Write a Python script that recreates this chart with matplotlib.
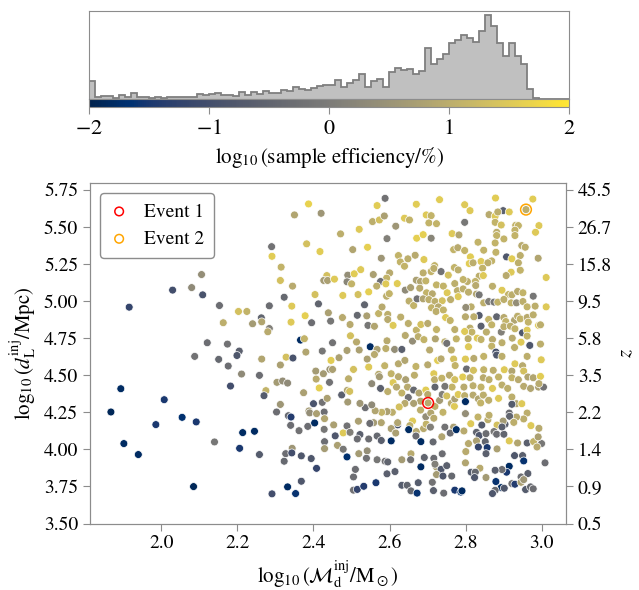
import numpy as np
import matplotlib.pyplot as plt
from matplotlib import cm, colors

plt.rcParams['font.family'] = 'serif'
plt.rcParams['font.serif'] = ['STIXGeneral', 'Liberation Serif', 'DejaVu Serif']
plt.rcParams['mathtext.fontset'] = 'stix'
plt.rcParams['axes.edgecolor'] = '#8c8c8c'
plt.rcParams['xtick.color'] = '#8c8c8c'
plt.rcParams['ytick.color'] = '#8c8c8c'
plt.rcParams['xtick.labelcolor'] = 'black'
plt.rcParams['ytick.labelcolor'] = 'black'

# histogram of log10 sample efficiency, 0.05-wide bins from -2 to 2
eff_counts = [54, 7, 9, 9, 4, 13, 5, 17, 7, 5, 4, 5, 4, 7, 5, 7, 5, 7, 14, 12,
              14, 17, 11, 13, 10, 21, 12, 22, 14, 23, 17, 19, 27, 25, 35, 31, 27, 33, 39, 43,
              41, 57, 35, 49, 59, 75, 37, 55, 61, 37, 81, 93, 87, 91, 77, 85, 155, 105, 122, 137,
              169, 179, 193, 185, 173, 205, 254, 221, 169, 129, 169, 129, 107, 29, 4, 0, 0, 0, 0, 0]

# (log10 chirp mass, log10 distance, log10 sample efficiency)
sparse_low_mass = [
    (2.106, 5.179, 0.4), (2.030, 5.074, -1.0), (2.080, 5.091, 0.3), (2.109, 5.042, -0.9),
    (1.916, 4.959, -1.2), (2.153, 4.970, -0.3), (2.203, 4.930, 1.35), (2.225, 4.930, 1.1),
    (2.163, 4.854, 1.0), (2.121, 4.719, -0.3), (2.174, 4.710, -0.2), (2.205, 4.663, -0.6),
    (2.088, 4.627, -0.2), (2.151, 4.607, -0.4), (2.199, 4.633, -0.8), (2.176, 4.562, -0.3),
    (2.211, 4.508, 0.3), (1.894, 4.409, -1.8), (2.182, 4.427, -1.0), (2.008, 4.335, -1.5),
    (1.868, 4.252, -1.9), (2.055, 4.216, -1.7), (2.092, 4.185, -1.5), (1.986, 4.167, -1.5),
    (2.214, 4.113, -1.8), (2.140, 4.050, -0.1), (1.902, 4.039, -1.8), (2.206, 4.007, -1.5),
    (1.940, 3.965, -1.8), (2.085, 3.749, -1.9), (2.245, 4.122, -1.8),
]

mid_mass_upper = [
    (2.387, 5.655, 1.65), (2.350, 5.581, 0.85), (2.420, 5.592, 0.55), (2.471, 5.453, 1.0),
    (2.290, 5.367, -0.2), (2.382, 5.386, 1.35), (2.417, 5.334, 1.55), (2.503, 5.347, 0.85),
    (2.291, 5.302, 1.55), (2.315, 5.229, 1.1), (2.313, 5.139, 1.35), (2.345, 5.101, 0.95),
    (2.435, 5.172, 1.35), (2.427, 5.139, 0.65), (2.437, 5.139, 0.75), (2.455, 5.148, 1.5),
    (2.490, 5.175, 0.4), (2.488, 5.130, 0.2), (2.500, 5.116, 1.1), (2.507, 5.184, 1.55),
    (2.404, 5.044, 1.35), (2.477, 5.038, 1.5), (2.323, 5.026, -0.4), (2.284, 4.968, -0.3),
    (2.343, 4.966, 1.5), (2.413, 4.981, -0.5), (2.439, 4.921, 0.75), (2.240, 4.847, 0.65),
    (2.263, 4.887, -0.5), (2.264, 4.860, 0.85), (2.284, 4.815, 0.1), (2.280, 4.793, 0.95),
    (2.341, 4.858, 1.5), (2.378, 4.901, 1.6), (2.395, 4.854, -0.3), (2.445, 4.865, -0.1),
    (2.476, 4.889, 0.95), (2.496, 4.842, 0.95), (2.497, 4.766, 1.35), (2.366, 4.737, -1.8),
    (2.376, 4.746, 1.1), (2.450, 4.719, -0.2), (2.380, 4.656, 0.85), (2.423, 4.663, -0.1),
    (2.488, 4.667, 0.75),
]

mid_mass_lower = [
    (2.264, 4.609, 0.85), (2.328, 4.622, 1.35), (2.346, 4.616, -0.9), (2.313, 4.569, 0.75),
    (2.258, 4.499, -0.3), (2.304, 4.452, 0.65), (2.319, 4.461, 0.4), (2.332, 4.447, 0.3),
    (2.275, 4.396, 1.1), (2.270, 4.362, -0.7), (2.313, 4.303, 0.55), (2.303, 4.252, -0.3),
    (2.334, 4.227, -0.4), (2.341, 4.218, -1.4), (2.340, 4.162, -0.3), (2.362, 4.126, -0.2),
    (2.388, 4.259, 0.65), (2.390, 4.246, 0.4), (2.400, 4.308, -0.9), (2.408, 4.241, 0.75),
    (2.423, 4.317, -0.2), (2.436, 4.344, 0.75), (2.428, 4.252, -0.3), (2.429, 4.207, 0.85),
    (2.385, 4.155, -0.3), (2.403, 4.178, -1.8), (2.428, 4.135, -0.1), (2.453, 4.165, 0.75),
    (2.429, 4.052, -0.3), (2.429, 4.005, 0.65), (2.457, 4.091, -0.8), (2.463, 4.027, 0.75),
    (2.478, 4.111, 1.5), (2.488, 4.158, -0.2), (2.496, 4.115, 0.1), (2.478, 4.001, -0.1),
    (2.488, 3.949, -1.7), (2.258, 3.965, -0.7), (2.327, 3.971, -0.3), (2.344, 4.007, 0.55),
    (2.343, 3.976, -1.0), (2.323, 3.920, -0.4), (2.368, 3.956, -0.8), (2.394, 3.938, -0.8),
    (2.408, 3.872, -1.2), (2.368, 3.785, -0.8), (2.332, 3.747, -1.8), (2.353, 3.702, -1.6),
    (2.291, 3.700, -1.0), (2.505, 3.814, -0.3), (2.505, 3.725, -0.2), (2.446, 4.600, 1.55),
    (2.443, 4.539, 0.55), (2.450, 4.539, 0.75), (2.467, 4.618, 0.75), (2.406, 4.528, 0.65),
    (2.407, 4.474, 0.95), (2.426, 4.510, 0.65), (2.415, 4.414, 1.6), (2.442, 4.452, -0.2),
    (2.374, 4.382, 0.75), (2.474, 4.367, -0.6), (2.489, 4.398, 0.85), (2.495, 4.391, 1.35),
    (2.490, 4.319, 0.65), (2.505, 4.539, 1.35), (2.492, 4.476, 1.0),
]

high_mass_far = [
    (2.588, 5.693, -0.2), (2.567, 5.644, 1.55), (2.670, 5.653, 1.55), (2.731, 5.684, 1.55),
    (2.639, 5.559, 1.5), (2.652, 5.547, 1.1), (2.555, 5.536, 1.0), (2.573, 5.547, 1.35),
    (2.586, 5.574, 0.75), (2.616, 5.505, 0.55), (2.520, 5.484, 1.5), (2.696, 5.581, 1.5),
    (2.709, 5.576, 1.1), (2.703, 5.527, 1.1), (2.723, 5.522, 1.1), (2.593, 5.421, 0.1),
    (2.671, 5.424, 1.6), (2.688, 5.448, 1.6), (2.709, 5.424, 0.2), (2.764, 5.455, 1.5),
    (2.782, 5.446, 0.85), (2.542, 5.363, 1.6), (2.768, 5.347, 1.1), (2.779, 5.360, 0.95),
    (2.578, 5.289, 0.55), (2.623, 5.307, 1.1), (2.628, 5.264, 1.1), (2.648, 5.285, 1.0),
    (2.667, 5.309, 0.95), (2.639, 5.235, 1.1), (2.690, 5.280, 1.5), (2.718, 5.239, 1.1),
    (2.735, 5.199, -0.2), (2.754, 5.175, 1.35), (2.770, 5.226, 1.1), (2.780, 5.210, 1.0),
    (2.524, 5.212, 1.5), (2.557, 5.179, 0.75), (2.600, 5.190, 0.95), (2.592, 5.155, 1.1),
    (2.576, 5.132, -0.3), (2.566, 5.101, 1.0), (2.590, 5.116, 1.5), (2.620, 5.118, 1.55),
    (2.641, 5.074, 0.3), (2.655, 5.091, 0.75), (2.670, 5.141, 0.75), (2.681, 5.132, 0.85),
    (2.695, 5.136, 1.1), (2.688, 5.190, 1.0), (2.709, 5.199, 1.1), (2.716, 5.220, 1.0),
    (2.679, 5.087, 0.95), (2.697, 5.056, 1.1), (2.712, 5.049, 0.95), (2.723, 5.109, 1.1),
    (2.741, 5.101, 1.1), (2.751, 5.056, 1.5), (2.771, 5.118, 1.0), (2.778, 5.070, 1.0),
    (2.517, 5.044, 1.35), (2.545, 5.062, 1.6), (2.592, 5.033, 1.0), (2.599, 5.050, 1.1),
    (2.651, 5.000, 1.0), (2.663, 4.970, 1.1), (2.672, 5.015, -0.2), (2.688, 5.015, 0.85),
    (2.703, 5.010, 1.0), (2.719, 4.997, 1.0), (2.738, 5.002, 1.35), (2.710, 4.955, 1.1),
    (2.728, 4.961, 0.95), (2.722, 4.930, 1.0), (2.741, 4.940, 1.1), (2.780, 5.030, 1.5),
    (2.760, 5.010, 1.0), (2.534, 4.975, -0.5), (2.515, 4.904, -0.4), (2.540, 4.900, 0.75),
    (2.571, 4.916, 1.1), (2.580, 4.960, 0.95), (2.595, 4.910, 1.0), (2.595, 4.876, 0.95),
    (2.609, 4.836, 1.5), (2.629, 4.892, 1.0), (2.649, 4.849, 1.0), (2.670, 4.804, 1.1),
    (2.682, 4.842, 1.35), (2.700, 4.849, 0.95), (2.723, 4.808, 1.1), (2.747, 4.889, 1.5),
    (2.759, 4.869, 1.1), (2.771, 4.808, 1.0), (2.543, 4.836, -0.1), (2.560, 4.830, 0.85),
    (2.513, 4.724, 0.95), (2.549, 4.692, -1.8), (2.567, 4.674, 0.75), (2.593, 4.732, 0.95),
    (2.590, 4.680, 1.0), (2.613, 4.674, 0.4), (2.632, 4.674, -0.6), (2.641, 4.768, 0.95),
    (2.660, 4.730, 0.4), (2.675, 4.760, 1.0), (2.690, 4.740, 1.1), (2.705, 4.670, 0.95),
    (2.720, 4.745, 0.85), (2.745, 4.725, 1.0), (2.750, 4.715, -0.2), (2.762, 4.670, 1.0),
    (2.775, 4.745, 1.1), (2.520, 4.670, 0.75),
]

high_mass_near = [
    (2.541, 4.609, 0.75), (2.560, 4.640, 0.95), (2.587, 4.564, 1.1), (2.545, 4.555, 1.5),
    (2.623, 4.577, 0.95), (2.640, 4.600, 0.85), (2.669, 4.559, 1.1), (2.700, 4.570, 0.95),
    (2.726, 4.600, 1.55), (2.735, 4.610, 0.95), (2.768, 4.609, 1.35), (2.772, 4.565, 1.1),
    (2.571, 4.506, 0.95), (2.573, 4.490, 0.65), (2.553, 4.443, 0.3), (2.604, 4.510, 1.1),
    (2.623, 4.490, 0.95), (2.642, 4.470, 0.75), (2.609, 4.450, 1.5), (2.665, 4.500, 1.0),
    (2.716, 4.510, 1.5), (2.718, 4.470, 1.0), (2.719, 4.420, -0.5), (2.737, 4.480, 1.1),
    (2.757, 4.500, 0.95), (2.771, 4.470, 1.35), (2.764, 4.420, 1.1), (2.745, 4.425, -0.1),
    (2.576, 4.411, -0.6), (2.595, 4.390, 1.0), (2.618, 4.420, 0.95), (2.632, 4.380, 1.1),
    (2.647, 4.420, 0.95), (2.663, 4.400, -0.4), (2.677, 4.380, 0.85), (2.695, 4.400, 1.55),
    (2.700, 4.370, 0.95), (2.701, 4.313, 0.95), (2.681, 4.325, 0.85), (2.649, 4.350, -0.2),
    (2.640, 4.310, 0.95), (2.663, 4.310, 0.75), (2.625, 4.286, 1.35), (2.607, 4.250, 1.0),
    (2.593, 4.255, 0.75), (2.579, 4.250, 1.1), (2.562, 4.260, 0.85), (2.536, 4.281, -0.3),
    (2.522, 4.310, 0.55), (2.553, 4.300, 0.3), (2.719, 4.290, 1.0), (2.731, 4.330, 0.65),
    (2.738, 4.370, 0.1), (2.750, 4.360, 1.35), (2.740, 4.250, 1.1), (2.762, 4.310, 0.95),
    (2.770, 4.290, 1.5), (2.771, 4.340, 0.75), (2.780, 4.370, 1.5), (2.681, 4.265, 1.0),
    (2.695, 4.220, 0.4), (2.708, 4.245, 0.85), (2.716, 4.210, 0.95), (2.660, 4.191, 1.5),
    (2.653, 4.160, 1.0), (2.650, 4.133, -1.8), (2.621, 4.165, -1.0), (2.621, 4.180, 0.85),
    (2.604, 4.140, 0.75), (2.616, 4.110, 0.75), (2.578, 4.180, 0.85), (2.558, 4.180, 0.65),
    (2.548, 4.175, -0.3), (2.518, 4.190, 0.75), (2.670, 4.120, 0.95), (2.669, 4.090, -0.3),
    (2.682, 4.052, -1.8), (2.689, 4.140, 0.95), (2.696, 4.170, 1.1), (2.707, 4.150, 0.1),
    (2.714, 4.050, -0.4), (2.737, 4.085, 0.85), (2.745, 4.150, -0.2), (2.768, 4.150, 0.75),
    (2.759, 4.110, -0.3), (2.775, 4.133, -1.8), (2.604, 4.057, -1.8), (2.567, 4.090, -0.4),
    (2.578, 4.060, -0.6), (2.545, 4.070, -0.3), (2.522, 4.100, -0.6), (2.515, 4.070, -0.3),
    (2.519, 3.971, 0.65), (2.541, 3.990, 0.4), (2.539, 3.940, -0.2), (2.567, 3.930, -0.1),
    (2.588, 3.920, -0.2), (2.595, 3.915, -0.5), (2.632, 3.930, 0.65), (2.656, 3.970, 0.95),
    (2.655, 3.930, -0.2), (2.691, 3.945, -0.5), (2.682, 3.882, -1.8), (2.716, 3.940, -0.3),
    (2.723, 3.880, 0.75), (2.719, 3.900, 0.1), (2.738, 3.970, -0.3), (2.735, 3.865, -0.8),
    (2.750, 3.890, -0.6), (2.723, 3.830, 0.65), (2.740, 3.820, -0.8), (2.763, 3.820, -0.4),
    (2.510, 3.865, -0.3), (2.515, 3.730, -1.2), (2.532, 3.751, -1.4), (2.564, 3.775, -1.5),
    (2.593, 3.835, -0.6), (2.614, 3.850, -0.6), (2.632, 3.758, -0.7), (2.646, 3.758, -0.5),
    (2.656, 3.720, -0.4), (2.672, 3.705, -1.6), (2.675, 3.775, -0.7), (2.712, 3.778, -0.2),
    (2.715, 3.722, -0.6), (2.742, 3.705, -0.3), (2.771, 3.725, -1.5), (2.787, 3.712, -1.6),
]

top_mass_far = [
    (2.878, 5.695, 1.55), (2.976, 5.688, 1.55), (2.958, 5.617, 1.0), (2.797, 5.650, 1.5),
    (2.811, 5.610, 1.5), (2.861, 5.583, 0.95), (2.877, 5.572, 1.5), (2.898, 5.610, -0.6),
    (2.914, 5.601, 1.5), (2.884, 5.601, 1.0), (2.797, 5.531, -0.1), (2.877, 5.531, 1.1),
    (2.893, 5.513, 1.35), (2.931, 5.511, 1.1), (2.938, 5.509, 1.1), (2.992, 5.509, 1.5),
    (2.983, 5.464, 1.5), (2.881, 5.464, 1.0), (2.881, 5.442, 1.1), (2.929, 5.478, 1.1),
    (2.929, 5.442, 1.1), (2.900, 5.419, 1.1), (2.877, 5.392, 1.1), (2.832, 5.397, 1.1),
    (2.947, 5.374, 0.95), (2.956, 5.363, 1.0), (2.797, 5.341, 1.1), (2.847, 5.343, 1.1),
    (2.879, 5.329, 1.1), (2.907, 5.298, -0.8), (2.921, 5.285, 1.55), (2.943, 5.307, 1.0),
    (2.938, 5.258, 1.0), (2.990, 5.289, 0.85), (2.812, 5.298, 1.55), (2.809, 5.253, 1.55),
    (2.840, 5.267, 1.5), (2.868, 5.271, 1.1), (2.819, 5.258, 1.0), (2.858, 5.258, 1.0),
    (2.844, 5.222, 1.1), (2.919, 5.195, 1.5), (2.943, 5.208, 1.1), (2.906, 5.172, 0.95),
    (3.011, 5.159, 1.5), (2.835, 5.168, 1.0), (2.846, 5.172, 1.5), (2.825, 5.132, 1.1),
    (2.826, 5.105, 0.95), (2.804, 5.132, 1.0), (2.793, 5.145, 1.1), (2.793, 5.082, 1.0),
    (2.870, 5.100, 1.0), (2.895, 5.073, 1.5), (2.912, 5.044, 1.1), (2.921, 5.042, 1.0),
    (2.936, 5.065, 0.95), (2.950, 5.056, 1.1), (2.977, 5.033, -0.1), (2.828, 5.047, 0.85),
    (2.807, 5.060, 1.0), (2.835, 5.042, -0.1), (2.847, 4.988, 1.0), (2.860, 4.997, 0.1),
    (2.874, 4.993, -0.1), (2.884, 4.993, 1.1), (2.900, 5.011, 1.0), (2.919, 4.988, 1.1),
    (2.933, 4.988, 0.4), (2.950, 4.997, 1.0), (2.961, 4.961, 1.1), (2.982, 4.966, 1.0),
    (3.011, 4.961, 1.5), (2.814, 4.961, 1.0), (2.800, 4.957, 0.4), (2.835, 4.903, -0.7),
    (2.821, 4.894, 1.0), (2.799, 4.894, 0.95), (2.881, 4.894, -0.5), (2.860, 4.876, 1.1),
    (2.868, 4.840, 1.1), (2.900, 4.889, 0.95), (2.905, 4.862, 1.1), (2.928, 4.871, 0.85),
    (2.936, 4.898, 1.0), (2.943, 4.880, 1.1), (2.961, 4.889, 0.95), (2.964, 4.858, 1.1),
    (2.977, 4.907, 1.0), (2.991, 4.836, 1.5), (2.996, 4.840, 1.0), (2.811, 4.818, 1.0),
    (2.816, 4.791, 1.1), (2.797, 4.795, 1.5), (2.840, 4.831, -0.6), (2.854, 4.791, 1.0),
    (2.893, 4.791, 0.1), (2.900, 4.827, 1.0), (2.917, 4.831, 1.0), (2.929, 4.813, 1.1),
    (2.949, 4.786, -0.8), (2.961, 4.804, 1.5), (2.961, 4.764, 1.1), (2.830, 4.750, 1.5),
    (2.806, 4.746, 1.0), (2.840, 4.741, 1.1), (2.870, 4.741, 0.95), (2.868, 4.696, 1.1),
    (2.895, 4.719, 1.0), (2.922, 4.750, 0.95), (2.928, 4.687, 1.0), (2.945, 4.723, 1.5),
    (2.968, 4.701, -0.8), (2.996, 4.710, 1.0), (2.879, 4.656, -0.9), (2.807, 4.692, 1.5),
]

top_mass_near = [
    (2.799, 4.609, 1.5), (2.821, 4.613, 0.95), (2.847, 4.627, 1.1), (2.881, 4.636, -0.8),
    (2.895, 4.627, 1.0), (2.961, 4.627, 1.0), (2.998, 4.604, 1.5), (2.802, 4.542, -0.3),
    (2.820, 4.533, 1.35), (2.847, 4.537, 1.1), (2.872, 4.533, 1.0), (2.901, 4.537, 1.5),
    (2.921, 4.528, 0.85), (2.929, 4.577, 1.5), (2.949, 4.564, 0.95), (2.952, 4.528, 1.35),
    (2.792, 4.488, 1.55), (2.811, 4.483, 1.0), (2.846, 4.483, 0.95), (2.861, 4.470, 1.0),
    (2.886, 4.488, 1.1), (2.921, 4.483, 1.1), (2.938, 4.470, 0.95), (2.963, 4.488, 0.85),
    (2.977, 4.483, 0.85), (2.996, 4.492, 1.55), (2.795, 4.420, 0.95), (2.819, 4.429, 1.0),
    (2.840, 4.420, 1.1), (2.870, 4.411, 1.5), (2.895, 4.434, 1.0), (2.910, 4.411, 1.0),
    (2.952, 4.425, 0.95), (2.970, 4.411, 0.85), (2.991, 4.420, 0.75), (3.004, 4.420, -0.2),
    (2.992, 4.443, 0.95), (2.797, 4.362, 1.0), (2.799, 4.322, -1.8), (2.819, 4.366, 0.95),
    (2.833, 4.340, 0.85), (2.846, 4.366, 1.0), (2.839, 4.313, 1.1), (2.860, 4.331, 1.0),
    (2.886, 4.344, 1.5), (2.921, 4.353, 1.0), (2.933, 4.308, 0.85), (2.947, 4.308, 1.5),
    (2.921, 4.304, -0.7), (2.961, 4.245, 1.0), (2.952, 4.205, 1.0), (2.933, 4.218, 0.95),
    (2.914, 4.245, -0.3), (2.915, 4.223, -0.5), (2.903, 4.169, -0.6), (2.898, 4.191, 0.65),
    (2.926, 4.182, 1.0), (2.971, 4.160, 1.5), (2.992, 4.142, 0.95), (2.799, 4.241, 0.4),
    (2.813, 4.173, 1.5), (2.795, 4.124, 0.95), (2.832, 4.218, 1.1), (2.842, 4.164, -0.7),
    (2.858, 4.200, 1.0), (2.861, 4.230, 1.0), (2.882, 4.164, 1.35), (2.828, 4.115, -0.5),
    (2.835, 4.093, -0.8), (2.853, 4.106, -0.3), (2.874, 4.120, -0.1), (2.881, 4.102, -0.3),
    (2.900, 4.102, -0.5), (2.895, 4.151, -0.6), (2.914, 4.057, 1.5), (2.936, 4.043, 0.85),
    (2.961, 4.043, -0.6), (2.978, 4.052, 1.1), (2.999, 4.039, -0.1), (2.990, 4.084, 0.75),
    (2.987, 4.016, 0.95), (2.807, 4.039, 0.95), (2.828, 4.057, 0.75), (2.851, 4.052, -0.5),
    (2.833, 4.016, -1.2), (2.856, 4.012, -1.5), (2.882, 4.003, 0.75), (2.800, 3.985, 0.95),
    (2.853, 3.971, -0.6), (2.928, 3.958, -0.8), (2.949, 3.958, -0.6), (2.952, 3.922, -1.6),
    (2.799, 3.909, 0.85), (3.008, 3.909, -0.3), (2.914, 3.886, -1.8), (2.907, 3.846, -1.5),
    (2.895, 3.864, -0.3), (2.877, 3.859, -0.6), (2.837, 3.873, 0.95), (2.814, 3.846, -0.7),
    (2.825, 3.846, -0.4), (2.823, 3.810, -0.8), (2.853, 3.810, 0.65), (2.945, 3.814, -0.3),
    (2.963, 3.837, -0.6), (2.921, 3.769, -0.2), (2.929, 3.765, -1.4), (2.879, 3.783, -1.6),
    (2.945, 3.778, 0.75), (2.952, 3.796, 0.55), (2.893, 3.742, -1.8), (2.901, 3.738, -0.8),
    (2.877, 3.724, -0.4), (2.870, 3.702, -0.8), (2.957, 3.729, -0.7), (2.970, 3.747, -0.4),
    (2.977, 3.734, -0.3), (2.790, 3.720, -1.8),
]

event1 = (2.701, 4.313)
event2 = (2.958, 5.617)

dl_ticks = [3.50, 3.75, 4.00, 4.25, 4.50, 4.75, 5.00, 5.25, 5.50, 5.75]
z_labels = ['0.5', '0.9', '1.4', '2.2', '3.5', '5.8', '9.5', '15.8', '26.7', '45.5']
eff_ticks = [-2, -1, 0, 1, 2]

points = (sparse_low_mass + mid_mass_upper + mid_mass_lower + high_mass_far
          + high_mass_near + top_mass_far + top_mass_near)
log_mc, log_dl, log_eff = (np.array(v) for v in zip(*points))

fig = plt.figure(figsize=(6.39, 5.90), dpi=100)
ax_hist = fig.add_axes([0.1397, 0.8322, 0.7512, 0.1492])
cax = fig.add_axes([0.1397, 0.8178, 0.7512, 0.0144])
ax = fig.add_axes([0.1408, 0.1127, 0.7449, 0.5763])

edges = np.linspace(-2, 2, len(eff_counts) + 1)
ax_hist.stairs(eff_counts, edges, fill=True, color='#c0c0c0')
ax_hist.stairs(eff_counts, edges, color='#7f7f7f', lw=1.3)
ax_hist.set_xlim(-2, 2)
ax_hist.set_ylim(0, max(eff_counts) * 1.05)
ax_hist.set_xticks([])
ax_hist.set_yticks([])

norm = colors.Normalize(vmin=-2, vmax=2)
cb = fig.colorbar(cm.ScalarMappable(norm=norm, cmap='cividis'), cax=cax,
                  orientation='horizontal', ticks=eff_ticks)
cb.outline.set_edgecolor('#8c8c8c')
cb.ax.tick_params(labelsize=16, length=5)
cb.ax.set_xticklabels([f'$-${-t}' if t < 0 else str(t) for t in eff_ticks])
cb.set_label(r'$\log_{10}$(sample efficiency/%)', fontsize=15, labelpad=4)

ax.scatter(log_mc, log_dl, c=log_eff, cmap='cividis', norm=norm, s=32,
           edgecolors='white', linewidths=0.5, zorder=2)
ax.scatter(*event1, s=60, facecolors='none', edgecolors='red', linewidths=1.1,
           label='Event 1', zorder=3)
ax.scatter(*event2, s=60, facecolors='none', edgecolors='orange', linewidths=1.1,
           label='Event 2', zorder=3)

ax.set_xlim(1.813, 3.063)
ax.set_ylim(3.5, 5.793)
ax.set_xticks([2.0, 2.2, 2.4, 2.6, 2.8, 3.0])
ax.set_yticks(dl_ticks)
ax.tick_params(labelsize=14, length=5)
ax.set_xlabel(r'$\log_{10}(\mathcal{M}_\mathrm{d}^\mathrm{inj}/\mathrm{M}_\odot)$', fontsize=15)
ax.set_ylabel(r'$\log_{10}(d_\mathrm{L}^\mathrm{inj}/\mathrm{Mpc})$', fontsize=15)
ax.legend(loc='upper left', fontsize=14, handlelength=1.0, handletextpad=0.8,
          borderpad=0.5, edgecolor='#8c8c8c', framealpha=1, markerscale=0.8)

ax_z = ax.twinx()
ax_z.set_ylim(ax.get_ylim())
ax_z.set_yticks(dl_ticks)
ax_z.set_yticklabels(z_labels)
ax_z.tick_params(labelsize=14, length=5)
ax_z.set_ylabel('$z$', fontsize=15, labelpad=3)

fig.savefig('out.png', dpi=100)
